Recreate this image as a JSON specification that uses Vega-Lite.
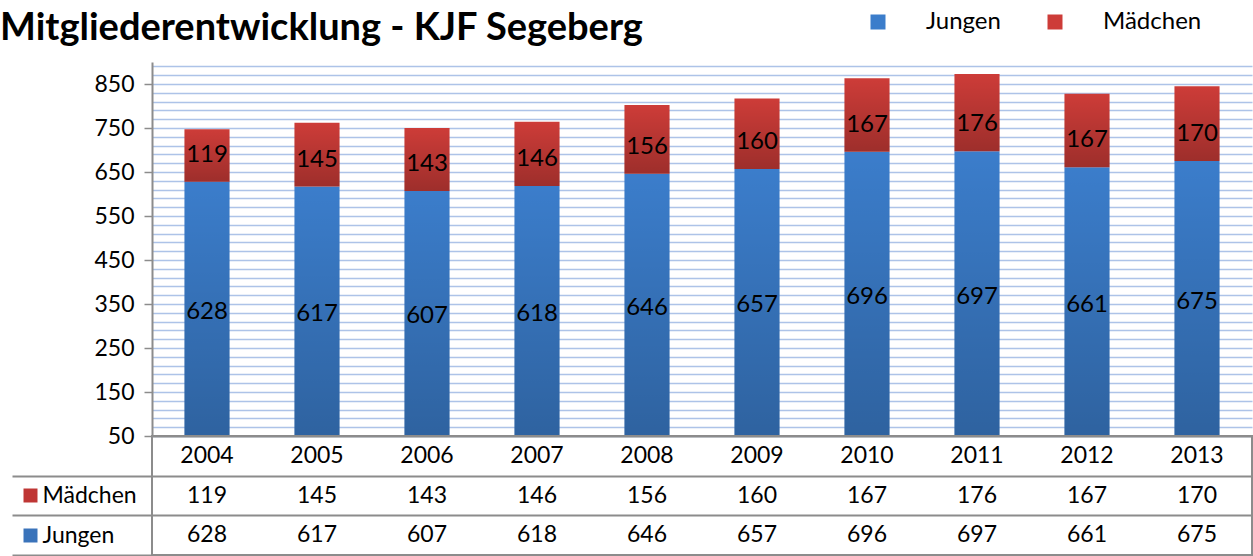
{
  "$schema": "https://vega.github.io/schema/vega-lite/v6.json",
  "padding": {"left": 0, "top": 10, "right": 3, "bottom": 0},
  "spacing": 0,
  "bounds": "flush",
  "background": "white",
  "config": {"font": "Lato", "view": {"stroke": null}},
  "title": {"text": "Mitgliederentwicklung - KJF Segeberg", "anchor": "start", "frame": "bounds", "fontSize": 38, "fontWeight": "bold", "font": "Lato", "color": "#000000", "offset": 0, "dy": 38, "dx": -10},
  "datasets": {
    "members": [
      {"Jahr": "2004", "Gruppe": "Jungen", "Anzahl": 628},
      {"Jahr": "2004", "Gruppe": "Mädchen", "Anzahl": 119},
      {"Jahr": "2005", "Gruppe": "Jungen", "Anzahl": 617},
      {"Jahr": "2005", "Gruppe": "Mädchen", "Anzahl": 145},
      {"Jahr": "2006", "Gruppe": "Jungen", "Anzahl": 607},
      {"Jahr": "2006", "Gruppe": "Mädchen", "Anzahl": 143},
      {"Jahr": "2007", "Gruppe": "Jungen", "Anzahl": 618},
      {"Jahr": "2007", "Gruppe": "Mädchen", "Anzahl": 146},
      {"Jahr": "2008", "Gruppe": "Jungen", "Anzahl": 646},
      {"Jahr": "2008", "Gruppe": "Mädchen", "Anzahl": 156},
      {"Jahr": "2009", "Gruppe": "Jungen", "Anzahl": 657},
      {"Jahr": "2009", "Gruppe": "Mädchen", "Anzahl": 160},
      {"Jahr": "2010", "Gruppe": "Jungen", "Anzahl": 696},
      {"Jahr": "2010", "Gruppe": "Mädchen", "Anzahl": 167},
      {"Jahr": "2011", "Gruppe": "Jungen", "Anzahl": 697},
      {"Jahr": "2011", "Gruppe": "Mädchen", "Anzahl": 176},
      {"Jahr": "2012", "Gruppe": "Jungen", "Anzahl": 661},
      {"Jahr": "2012", "Gruppe": "Mädchen", "Anzahl": 167},
      {"Jahr": "2013", "Gruppe": "Jungen", "Anzahl": 675},
      {"Jahr": "2013", "Gruppe": "Mädchen", "Anzahl": 170}
    ]
  },
  "vconcat": [
    {
      "width": 1100,
      "height": 374,
      "data": {"name": "members"},
      "transform": [
        {"stack": "Anzahl", "groupby": ["Jahr"], "sort": [{"field": "Gruppe", "order": "ascending"}], "as": ["unten", "oben"]}
      ],
      "encoding": {
        "x": {"field": "Jahr", "type": "ordinal", "scale": {"paddingInner": 0.59, "paddingOuter": 0.295}, "axis": null}
      },
      "layer": [
        {
          "mark": {"type": "bar", "clip": true},
          "encoding": {
            "y": {
              "field": "unten", "type": "quantitative",
              "scale": {"domain": [50, 900], "zero": false, "nice": false},
              "axis": {
                "title": null,
                "values": [50,70,90,110,130,150,170,190,210,230,250,270,290,310,330,350,370,390,410,430,450,470,490,510,530,550,570,590,610,630,650,670,690,710,730,750,770,790,810,830,850,870,890],
                "labelExpr": "(datum.value - 50) % 100 === 0 ? datum.label : ''",
                "labelFontSize": 23, "labelColor": "#000000", "labelPadding": 10, "labelFont": "Lato",
                "tickSize": 8, "tickWidth": 1.5,
                "tickColor": {"condition": {"test": "(datum.value - 50) % 100 === 0", "value": "#8c8c8c"}, "value": "transparent"},
                "domainColor": "#8c8c8c", "domainWidth": 2,
                "grid": true, "gridColor": "#adc3e8", "gridWidth": 1.5
              }
            },
            "y2": {"field": "oben"},
            "color": {
              "field": "Gruppe", "type": "nominal",
              "scale": {"domain": ["Jungen", "Mädchen"], "range": ["#3b7dcb", "#cd3c38"]},
              "legend": {
                "title": null, "orient": "none", "direction": "horizontal",
                "legendX": 714, "legendY": -52,
                "symbolType": "square", "symbolSize": 225, "symbolStrokeWidth": 0,
                "labelFontSize": 24, "labelColor": "#000000", "labelOffset": 36, "columnPadding": 42, "labelFont": "Lato"
              }
            }
          }
        },
        {
          "mark": {
            "type": "bar", "clip": true,
            "fill": {"gradient": "linear", "x1": 0, "y1": 0, "x2": 0, "y2": 1, "stops": [{"offset": 0, "color": "rgba(0,0,0,0)"}, {"offset": 1, "color": "rgba(0,0,0,0.23)"}]}
          },
          "encoding": {
            "y": {"field": "unten", "type": "quantitative", "scale": {"domain": [50, 900], "zero": false, "nice": false}, "axis": null},
            "y2": {"field": "oben"}
          }
        },
        {
          "transform": [{"filter": "datum.Gruppe === 'Jungen'"}],
          "mark": {"type": "text", "fontSize": 24, "baseline": "middle", "dy": 3, "color": "#000000", "font": "Lato"},
          "encoding": {
            "y": {"field": "Anzahl", "type": "quantitative", "scale": {"domain": [50, 1750], "zero": false, "nice": false}, "axis": null},
            "text": {"field": "Anzahl", "type": "quantitative"}
          }
        },
        {
          "transform": [{"filter": "datum.Gruppe === 'Mädchen'"}],
          "mark": {"type": "text", "fontSize": 24, "baseline": "middle", "dy": -27, "color": "#000000", "font": "Lato"},
          "encoding": {
            "y": {"field": "unten", "type": "quantitative", "scale": {"domain": [50, 900], "zero": false, "nice": false}, "axis": null},
            "text": {"field": "Anzahl", "type": "quantitative"}
          }
        }
      ],
      "resolve": {"scale": {"y": "independent"}}
    },
    {
      "width": 1100,
      "height": 119,
      "view": {"stroke": "#8c8c8c", "strokeWidth": 2},
      "data": {"name": "members"},
      "layer": [
        {
          "transform": [{"filter": "datum.Gruppe === 'Jungen'"}],
          "mark": {"type": "text", "fontSize": 23, "baseline": "middle", "color": "#000000", "font": "Lato"},
          "encoding": {
            "x": {
              "field": "Jahr", "type": "ordinal", "scale": {"padding": 0},
              "axis": {"title": null, "orient": "bottom", "domain": false, "ticks": false, "labels": false, "grid": true, "tickBand": "extent", "gridColor": "#8c8c8c", "gridWidth": 2}
            },
            "y": {
              "datum": "Jahr", "type": "nominal",
              "scale": {"domain": ["Jahr", "Mädchen", "Jungen"], "padding": 0},
              "axis": {
                "title": null, "orient": "left", "domain": false,
                "tickBand": "extent", "ticks": true, "tickSize": 140, "tickWidth": 2,
                "tickColor": {"condition": {"test": "datum.value == null", "value": "transparent"}, "value": "#8c8c8c"},
                "grid": true, "gridColor": "#8c8c8c", "gridWidth": 2,
                "labelAlign": "left", "labelPadding": -30, "labelFontSize": 23, "labelColor": "#000000", "labelFont": "Lato",
                "labelExpr": "datum.value === 'Jahr' ? '' : datum.label"
              }
            },
            "text": {"field": "Jahr", "type": "nominal"}
          }
        },
        {
          "mark": {"type": "text", "fontSize": 23, "baseline": "middle", "color": "#000000", "font": "Lato"},
          "encoding": {
            "x": {"field": "Jahr", "type": "ordinal", "scale": {"padding": 0}, "axis": null},
            "y": {
              "field": "Gruppe", "type": "nominal",
              "scale": {"domain": ["Jahr", "Mädchen", "Jungen"], "padding": 0},
              "axis": {
                "title": null, "orient": "left", "offset": 115, "domain": false, "labels": false, "grid": false,
                "values": ["Mädchen", "Jungen"],
                "tickSize": 14, "tickWidth": 14, "tickCap": "butt",
                "tickColor": {"condition": {"test": "datum.value === 'Mädchen'", "value": "#bf3634"}, "value": "#3a73ba"}
              }
            },
            "text": {"field": "Anzahl", "type": "quantitative"}
          }
        }
      ],
      "resolve": {"axis": {"y": "independent"}}
    }
  ]
}
